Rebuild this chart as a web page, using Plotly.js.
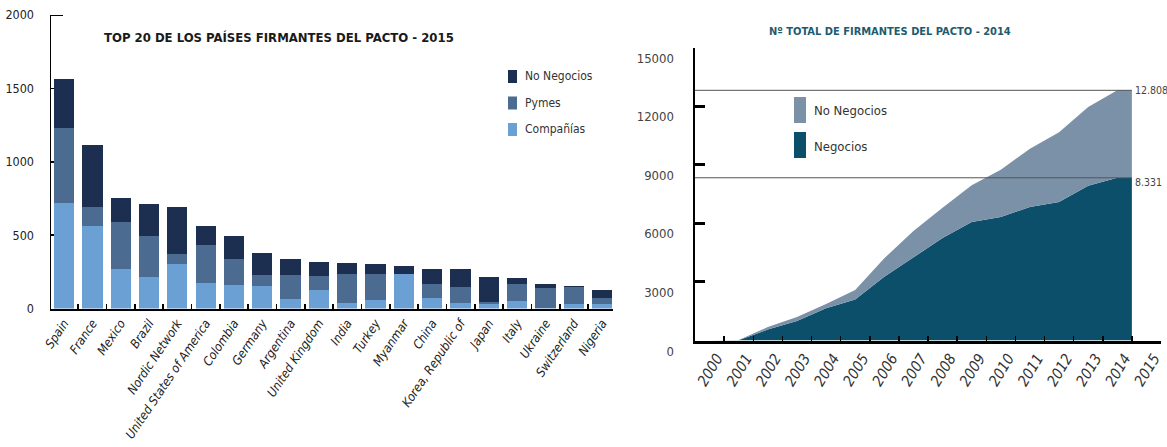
<!DOCTYPE html>
<html>
<head>
<meta charset="utf-8">
<script src="https://cdn.plot.ly/plotly-3.0.1.min.js"></script>
<style>
  html, body { margin: 0; padding: 0; background: #ffffff; }
  #chart { width: 1167px; height: 447px; }
  /* category and year labels are set in italics */
  #chart g.xtick text, #chart g.x2tick text { font-style: italic !important; }
</style>
</head>
<body>
<div id="chart"></div>
<script>
// ---- Top 20 signatory countries, 2015 (stacked bars) ----
const countries = ['Spain', 'France', 'Mexico', 'Brazil', 'Nordic Network',
  'United States of America', 'Colombia', 'Germany', 'Argentina', 'United Kingdom',
  'India', 'Turkey', 'Myanmar', 'China', 'Korea, Republic of', 'Japan', 'Italy',
  'Ukraine', 'Switzerland', 'Nigeria'];
const companias      = [722, 561, 268, 213, 302, 172, 163, 150,  65, 129,  38,  61, 232,  72,  38,  34,  52,   6,  29, 29];
const pymes          = [511, 134, 320, 280,  70, 264, 173,  77, 162,  91, 194, 173,   0,  92, 109,  10, 112, 137, 118, 41];
const noNegocios2015 = [334, 418, 162, 216, 323, 125, 161, 152, 109,  96,  81,  68,  56, 102, 119, 174,  45,  21,   7, 55];
const barNames = { companias: 'Compañías', pymes: 'Pymes', noNegocios: 'No Negocios' };
const barTicks = [0, 500, 1000, 1500, 2000];

// ---- Total signatories per year up to 2014 (stacked areas) ----
const years        = [2000, 2001, 2002, 2003, 2004, 2005, 2006, 2007, 2008, 2009, 2010, 2011, 2012, 2013, 2014];
const negocios     = [0, 15, 560, 1000, 1650, 2105, 3260, 4270, 5250, 6070, 6320, 6840, 7090, 7920, 8331];
const noNegocios   = [0,  5, 130,  200,  220,  475,  950, 1330, 1550, 1880, 2420, 2980, 3570, 4040, 4477];
const yearLabels   = ['2000', '2001', '2002', '2003', '2004', '2005', '2006', '2007',
                      '2008', '2009', '2010', '2011', '2012', '2013', '2014', '2015'];
const areaNames    = { negocios: 'Negocios', noNegocios: 'No Negocios' };
const areaTicks    = [0, 3000, 6000, 9000, 12000, 15000];

// ---- styling ----
const FONT = "'DejaVu Sans Condensed', 'Liberation Sans', sans-serif";
const W = 1167, H = 447;
const px = v => v / W;            // horizontal pixel -> paper
const py = v => 1 - v / H;        // vertical pixel -> paper
const C = {
  companias: '#6aa0d4', pymes: '#4c6b90', noNeg: '#1d2f50',
  areaNeg: '#0b4f6b', areaNoNeg: '#7b91a8', title2: '#1d5b70'
};
const fmt = n => String(n).replace(/\B(?=(\d{3})+(?!\d))/g, '.');

// each year's value sits mid-year; the last one runs to the year's end
const areaX = years.map(y => y + 0.5).concat([years[years.length - 1] + 1]);
const extend = arr => arr.concat([arr[arr.length - 1]]);
const totals = negocios.map((v, i) => v + noNegocios[i]);
const lastTotal = totals[totals.length - 1];
const lastNeg = negocios[negocios.length - 1];
const yearBounds = yearLabels.map(Number).concat([Number(yearLabels[yearLabels.length - 1]) + 1]);
const areaEnd = years[years.length - 1] + 1;

const traces = [
  { type: 'bar', x: countries, y: companias, name: barNames.companias,
    marker: { color: C.companias, line: { width: 0 } }, xaxis: 'x', yaxis: 'y' },
  { type: 'bar', x: countries, y: pymes, name: barNames.pymes,
    marker: { color: C.pymes, line: { width: 0 } }, xaxis: 'x', yaxis: 'y' },
  { type: 'bar', x: countries, y: noNegocios2015, name: barNames.noNegocios,
    marker: { color: C.noNeg, line: { width: 0 } }, xaxis: 'x', yaxis: 'y' },
  { type: 'scatter', mode: 'lines', x: areaX, y: extend(negocios), name: areaNames.negocios,
    stackgroup: 'firmantes', fillcolor: C.areaNeg, line: { width: 0, color: C.areaNeg },
    xaxis: 'x2', yaxis: 'y2' },
  { type: 'scatter', mode: 'lines', x: areaX, y: extend(noNegocios), name: areaNames.noNegocios,
    stackgroup: 'firmantes', fillcolor: C.areaNoNeg, line: { width: 0, color: C.areaNoNeg },
    xaxis: 'x2', yaxis: 'y2' }
];

const shapes = [
  // cap tick at the top of the bar chart's value axis
  { type: 'line', xref: 'paper', yref: 'y', x0: px(51), x1: px(63), y0: 2000, y1: 2000,
    line: { color: '#000', width: 2 } },
  // reference lines for the 2014 totals
  { type: 'line', xref: 'x2', yref: 'y2', x0: yearBounds[0], x1: areaEnd,
    y0: lastTotal, y1: lastTotal, line: { color: '#555', width: 1 }, layer: 'above' },
  { type: 'line', xref: 'x2', yref: 'y2', x0: yearBounds[0], x1: areaEnd,
    y0: lastNeg, y1: lastNeg, line: { color: '#555', width: 1 }, layer: 'above' }
];

const annotations = [
  { text: 'TOP 20 DE LOS PAÍSES FIRMANTES DEL PACTO - 2015', xref: 'paper', yref: 'paper',
    x: px(279), y: py(38), xanchor: 'center', yanchor: 'middle', showarrow: false,
    font: { family: FONT, size: 13, color: '#1a1a1a', weight: 'bold' } },
  { text: 'Nº TOTAL DE FIRMANTES DEL PACTO - 2014', xref: 'paper', yref: 'paper',
    x: px(890), y: py(32), xanchor: 'center', yanchor: 'middle', showarrow: false,
    font: { family: FONT, size: 11, color: C.title2, weight: 'bold' } },
  { text: fmt(lastTotal), xref: 'x2', yref: 'y2', x: areaEnd, y: lastTotal,
    xanchor: 'left', yanchor: 'middle', xshift: 1, showarrow: false,
    font: { family: FONT, size: 10.5, color: '#444' } },
  { text: fmt(lastNeg), xref: 'x2', yref: 'y2', x: areaEnd, y: lastNeg,
    xanchor: 'left', yanchor: 'middle', xshift: 1, yshift: -4, showarrow: false,
    font: { family: FONT, size: 10.5, color: '#444' } }
];

// bar chart legend (top to bottom)
const barLegend = [
  { name: barNames.noNegocios, color: C.noNeg,     top: 70 },
  { name: barNames.pymes,      color: C.pymes,     top: 96.5 },
  { name: barNames.companias,  color: C.companias, top: 123 }
];
barLegend.forEach(it => {
  shapes.push({ type: 'rect', xref: 'paper', yref: 'paper', x0: px(508), x1: px(517),
    y0: py(it.top + 13), y1: py(it.top), fillcolor: it.color, line: { width: 0 } });
  annotations.push({ text: it.name, xref: 'paper', yref: 'paper', x: px(523), y: py(it.top + 6),
    xanchor: 'left', yanchor: 'middle', showarrow: false,
    font: { family: FONT, size: 12, color: '#333' } });
});

// area chart legend
const areaLegend = [
  { name: areaNames.noNegocios, color: C.areaNoNeg, top: 97 },
  { name: areaNames.negocios,   color: C.areaNeg,   top: 132 }
];
areaLegend.forEach(it => {
  shapes.push({ type: 'rect', xref: 'paper', yref: 'paper', x0: px(794), x1: px(806),
    y0: py(it.top + 26), y1: py(it.top), fillcolor: it.color, line: { width: 0 } });
  annotations.push({ text: it.name, xref: 'paper', yref: 'paper', x: px(812), y: py(it.top + 14),
    xanchor: 'left', yanchor: 'middle', showarrow: false,
    font: { family: FONT, size: 13, color: '#333' } });
});

const layout = {
  width: W, height: H,
  margin: { l: 0, r: 0, t: 0, b: 0 },
  paper_bgcolor: '#ffffff', plot_bgcolor: 'rgba(0,0,0,0)',
  showlegend: false, hovermode: false,
  barmode: 'stack', bargap: 0.283,
  xaxis: {
    domain: [px(51), px(613)], range: [-0.46, 19.38], type: 'category',
    tickson: 'boundaries', ticks: 'inside', ticklen: 5, tickwidth: 1.5, tickcolor: '#000',
    showline: true, linecolor: '#000', linewidth: 2.5, showgrid: false, zeroline: false,
    tickangle: -56, anchor: 'y',
    tickfont: { family: FONT, size: 12.5, color: '#222', style: 'italic' }
  },
  yaxis: {
    domain: [py(308.5), py(15)], range: [0, 2000], tickvals: barTicks, tickformat: 'd',
    ticks: 'inside', ticklen: 3, tickwidth: 1.5, tickcolor: '#000',
    showline: true, linecolor: '#000', linewidth: 1.5, showgrid: false, zeroline: false,
    ticklabelstandoff: 13, anchor: 'x',
    tickfont: { family: FONT, size: 12.5, color: '#222' }
  },
  xaxis2: {
    domain: [px(695), px(1161)], range: [yearBounds[0], yearBounds[yearBounds.length - 1]],
    tickvals: yearBounds, ticktext: yearLabels.concat(['']), ticklabelshift: 22,
    ticks: 'inside', ticklen: 5, tickwidth: 1.5, tickcolor: '#000',
    showline: true, linecolor: '#000', linewidth: 3, showgrid: false, zeroline: false,
    tickangle: -59, anchor: 'y2',
    tickfont: { family: FONT, size: 15, color: '#333', style: 'italic' }
  },
  yaxis2: {
    domain: [py(340.5), py(47.5)], range: [0, 15000], tickvals: areaTicks, tickformat: 'd',
    ticks: 'inside', ticklen: 10, tickwidth: 3, tickcolor: '#000',
    showline: true, linecolor: '#000', linewidth: 2.5, showgrid: false, zeroline: false,
    ticklabelposition: 'outside bottom', ticklabelstandoff: 16, anchor: 'x2',
    tickfont: { family: FONT, size: 13, color: '#444' }
  },
  shapes: shapes,
  annotations: annotations
};

Plotly.newPlot('chart', traces, layout, { staticPlot: true, displayModeBar: false });
</script>
</body>
</html>
